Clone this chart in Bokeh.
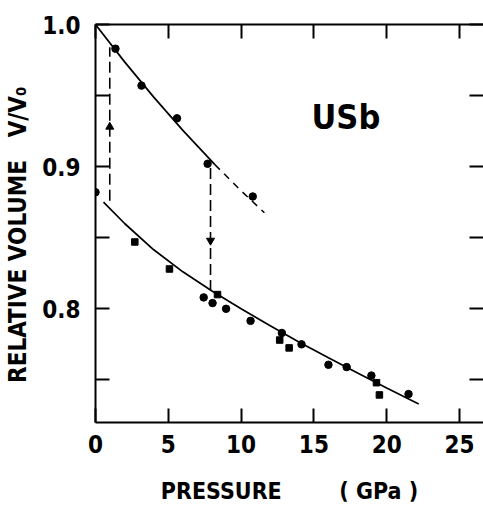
from bokeh.plotting import figure
from bokeh.models import Range1d, LinearAxis, FixedTicker, PrintfTickFormatter
from bokeh.core.properties import value
from bokeh.embed import file_html
from bokeh.resources import INLINE

# ---- data ----
circle_p = [0.0, 1.37, 3.16, 5.6, 7.7, 10.8, 7.43, 8.04, 8.97, 10.65, 12.8, 14.15, 16.0, 17.25, 18.95, 21.5]
circle_v = [0.882, 0.983, 0.957, 0.934, 0.902, 0.879, 0.808, 0.804, 0.800, 0.7915, 0.783, 0.775, 0.7606, 0.759, 0.753, 0.740]
square_p = [2.7, 5.08, 8.38, 12.65, 13.3, 19.3, 19.5]
square_v = [0.847, 0.828, 0.810, 0.778, 0.7725, 0.748, 0.7394]

fit_hi_p = [0.0, 2.0, 4.0, 6.0, 8.2]
fit_hi_v = [1.0, 0.9737, 0.9489, 0.9255, 0.9014]
ext_hi_p = [8.2, 10.0, 11.6]
ext_hi_v = [0.9014, 0.8830, 0.8676]
fit_lo_p = [0.55, 2.0, 4.0, 6.0, 8.0, 10.0, 12.0, 14.0, 16.0, 18.0, 20.0, 22.2]
fit_lo_v = [0.875, 0.860, 0.8415, 0.826, 0.8125, 0.800, 0.788, 0.7765, 0.7655, 0.7548, 0.7443, 0.733]

trans_p = [0.98, 7.9]
trans_from = [0.876, 0.899]
trans_to = [0.984, 0.813]
arrow_up_p, arrow_up_v = [0.98], [0.928]
arrow_dn_p, arrow_dn_v = [7.9], [0.848]

x_ticks = [0, 5, 10, 15, 20, 25]
y_major = [0.8, 0.9, 1.0]
y_minor = [0.75, 0.85, 0.95]

label_text = ["USb"]
label_p = [17.2]
label_v = [0.9346]

FONT = "'DejaVu Sans Condensed', 'DejaVu Sans', sans-serif"

p = figure(width=483, height=507, x_range=Range1d(0, 26.65), y_range=Range1d(0.72, 1.0),
           output_backend="svg", toolbar_location=None,
           x_axis_type=None, y_axis_type=None,
           min_border_left=95, min_border_right=0, min_border_top=24, min_border_bottom=85)
p.outline_line_color = None
p.background_fill_color = "white"
p.border_fill_color = "white"


def style(ax):
    ax.axis_line_color = "black"
    ax.axis_line_width = 2
    ax.major_tick_in = 14
    ax.major_tick_out = 0
    ax.minor_tick_in = 14
    ax.minor_tick_out = 0
    ax.major_tick_line_width = 2
    ax.minor_tick_line_width = 2
    ax.major_tick_line_color = "black"
    ax.minor_tick_line_color = "black"
    ax.major_label_text_font = FONT
    ax.major_label_text_font_style = "bold"
    ax.major_label_text_font_size = "24px"
    ax.major_label_text_color = "black"
    ax.axis_label_text_font = FONT
    ax.axis_label_text_font_style = "bold"
    ax.axis_label_text_font_size = "23px"
    ax.axis_label_text_color = "black"


xb = LinearAxis(ticker=FixedTicker(ticks=x_ticks, minor_ticks=[]))
style(xb)
xb.major_label_standoff = 12
xb.axis_label = "PRESSURE\u00a0\u00a0\u00a0\u00a0\u00a0\u00a0\u00a0\u00a0(\u00a0GPa\u00a0)"
xb.axis_label_standoff = 22
p.add_layout(xb, "below")

# top: tick marks only (minor ticks carry no labels)
xt = LinearAxis(ticker=FixedTicker(ticks=[], minor_ticks=x_ticks))
style(xt)
p.add_layout(xt, "above")

yl = LinearAxis(ticker=FixedTicker(ticks=y_major, minor_ticks=y_minor),
                formatter=PrintfTickFormatter(format="%.1f"))
style(yl)
yl.major_label_standoff = 15
yl.axis_label = "RELATIVE VOLUME\u00a0\u00a0\u00a0V/V\u2080\u00a0\u00a0\u00a0"
yl.axis_label_text_font_size = "24px"
yl.axis_label_standoff = 7
p.add_layout(yl, "left")

# right: tick marks only, spine lies outside the picture
yr = LinearAxis(ticker=FixedTicker(ticks=[], minor_ticks=y_major + y_minor))
style(yr)
yr.axis_line_color = None
p.add_layout(yr, "right")

# fitted curves
p.line(fit_hi_p, fit_hi_v, line_color="black", line_width=1.7)
p.line(ext_hi_p, ext_hi_v, line_color="black", line_width=1.5, line_dash="7 6")
p.line(fit_lo_p, fit_lo_v, line_color="black", line_width=1.7)

# transitions
p.segment(x0=trans_p, y0=trans_from, x1=trans_p, y1=trans_to, line_color="black",
          line_width=1.6, line_dash="11 5")
p.scatter(arrow_up_p, arrow_up_v, marker="triangle", size=8, color="black")
p.scatter(arrow_dn_p, arrow_dn_v, marker="inverted_triangle", size=8, color="black")

# data
p.scatter(circle_p, circle_v, marker="circle", size=7.5, color="black")
p.scatter(square_p, square_v, marker="square", size=6.5, color="black")

p.text(x=label_p, y=label_v, text=label_text, text_font=value(FONT), text_font_style="bold",
       text_font_size="34px", text_align="center", text_baseline="middle", text_color="black")

open("out.html", "w").write(file_html(p, INLINE))
